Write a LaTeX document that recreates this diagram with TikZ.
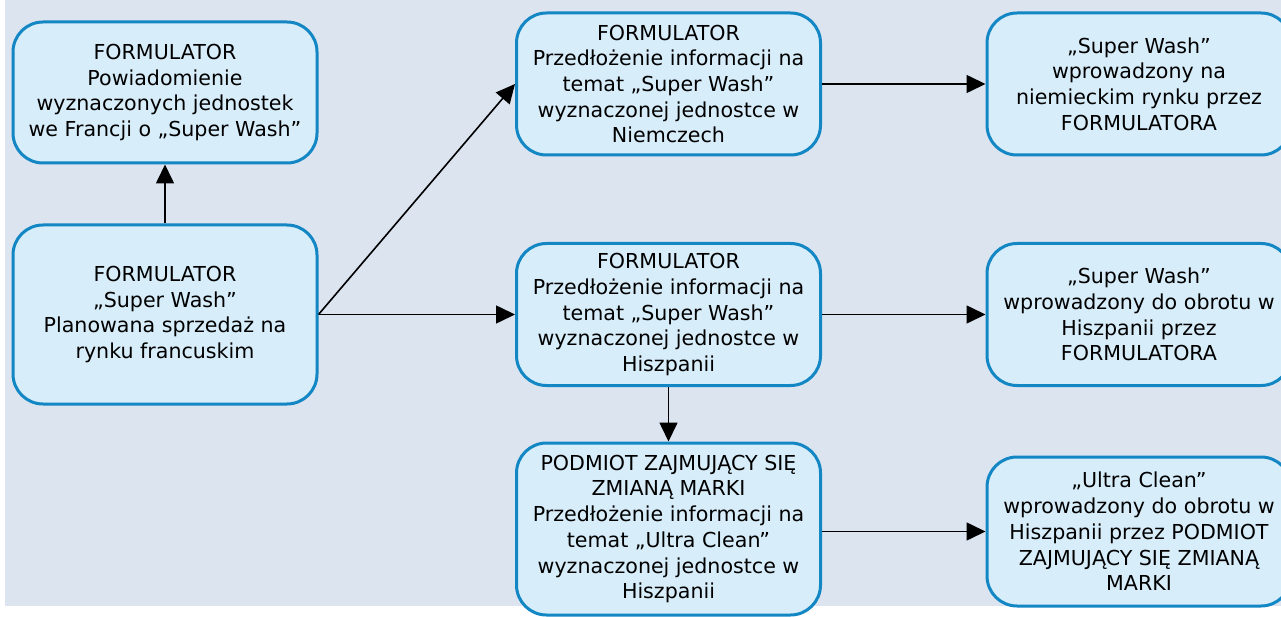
\documentclass[tikz,border=0pt]{standalone}
\usepackage{fontspec}
\setmainfont{DejaVu Sans}
\usetikzlibrary{arrows.meta}
\definecolor{pagebg}{HTML}{DCE4F0}
\definecolor{boxfill}{HTML}{D7EDFA}
\definecolor{boxline}{HTML}{1386C4}
\tikzset{
  stepbox/.style={draw=boxline, fill=boxfill, line width=3pt, rounded corners=30pt,
    minimum width=304pt, align=center, inner sep=0pt,
    font=\fontsize{20.6}{25.7}\selectfont},
  flow/.style={draw=black, line width=1.6pt, -{Triangle[length=19pt,width=18pt]}}
}
\begin{document}
\begin{tikzpicture}[x=1pt,y=-1pt]
\useasboundingbox (0,0) rectangle (1281,617);
\fill[pagebg] (5,0) rectangle (1281,606);

\node[stepbox, minimum height=141pt] (A) at (165,92.5)
  {FORMULATOR\\Powiadomienie\\wyznaczonych jednostek\\we Francji o „Super Wash”};
\node[stepbox, minimum height=179pt] (B) at (165,314.5)
  {FORMULATOR\\„Super Wash”\\Planowana sprzedaż na\\rynku francuskim};
\node[stepbox, minimum height=142pt] (C) at (668.5,84)
  {FORMULATOR\\Przedłożenie informacji na\\temat „Super Wash”\\wyznaczonej jednostce w\\Niemczech};
\node[stepbox, minimum height=142pt] (D) at (668.5,314.5)
  {FORMULATOR\\Przedłożenie informacji na\\temat „Super Wash”\\wyznaczonej jednostce w\\Hiszpanii};
\node[stepbox, minimum height=172pt] (E) at (668.5,529)
  {PODMIOT ZAJMUJĄCY SIĘ\\ZMIANĄ MARKI\\Przedłożenie informacji na\\temat „Ultra Clean”\\wyznaczonej jednostce w\\Hiszpanii};
\node[stepbox, minimum height=142pt] (F) at (1139,84)
  {„Super Wash”\\wprowadzony na\\niemieckim rynku przez\\FORMULATORA};
\node[stepbox, minimum height=142pt] (G) at (1139,314.5)
  {„Super Wash”\\wprowadzony do obrotu w\\Hiszpanii przez\\FORMULATORA};
\node[stepbox, minimum height=149pt] (H) at (1139,531.5)
  {„Ultra Clean”\\wprowadzony do obrotu w\\Hiszpanii przez PODMIOT\\ZAJMUJĄCY SIĘ ZMIANĄ\\MARKI};

\draw[flow] (B.north) -- (A.south);
\draw[flow] (B.east) -- (C.west);
\draw[flow] (B.east) -- (D.west);
\draw[flow] (C.east) -- (F.west);
\draw[flow] (D.east) -- (G.west);
\draw[flow] (D.south) -- (E.north);
\draw[flow] (E.east |- H.west) -- (H.west);
\end{tikzpicture}
\end{document}
